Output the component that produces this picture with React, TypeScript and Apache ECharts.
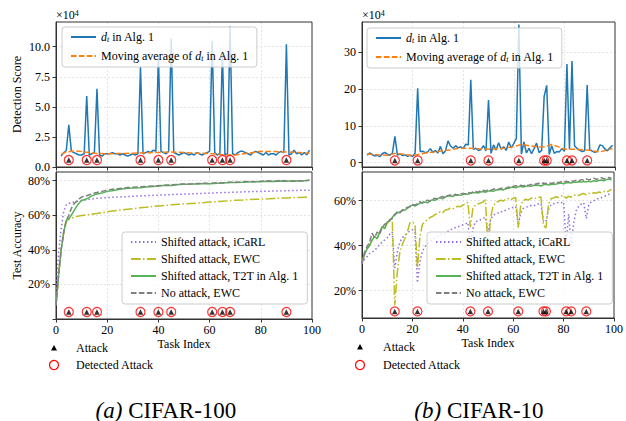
import React, { useEffect, useRef } from 'react';
import * as echarts from 'echarts';

const FONT = '"Liberation Serif", "Times New Roman", serif';

// ---------- data ----------
const xTicks = [0, 20, 40, 60, 80, 100];

// Attack task indices
const attacksC100 = [5, 12, 16, 33, 40, 45, 61, 65, 68, 90];
const attacksC10 = [13, 22, 43, 50, 62, 72, 73, 81, 83, 89];

// Detection score d_t (x1e4), tasks 2..99
const detStartTask = 2;
const dtC100 = [
  0.9, 1.2, 1.35, 3.5, 1.3, 1.2, 1.1, 1.0, 1.0, 1.1, 5.9, 1.0, 1.1, 1.2, 6.5,
  1.0, 0.9, 1.1, 1.1, 1.1, 1.2, 1.1, 1.1, 1.0, 1.1, 1.0, 0.9, 1.0, 1.1, 1.0, 1.1,
  8.3, 1.1, 1.2, 1.3, 1.2, 1.4, 1.3, 9.2, 1.3, 1.2, 1.1, 1.3, 10.7,
  1.2, 1.1, 1.0, 1.1, 1.2, 1.1, 1.0, 1.1, 1.0, 1.2, 1.1, 1.0, 1.1, 1.2, 1.3,
  10.5, 1.2, 1.0, 1.1, 9.6, 1.0, 1.1, 11.7,
  1.1, 1.0, 1.2, 1.3, 1.3, 1.2, 1.1, 1.0, 1.2, 1.3, 1.2, 1.1, 1.0, 1.2, 1.0, 1.1, 1.1, 1.0, 1.2, 1.3, 1.2,
  10.2, 1.0, 1.1, 1.4, 1.1, 1.2, 1.0, 1.2, 1.0, 1.4,
];
const dtC10 = [
  2.0, 2.6, 2.2, 1.8, 2.0, 1.6, 2.4, 2.8, 2.3, 2.0, 2.5, 7.1,
  2.0, 2.4, 1.9, 2.1, 1.7, 2.0, 1.6, 2.6, 20.2,
  3.0, 3.1, 2.7, 2.9, 3.8, 2.8, 3.3, 2.6, 4.4, 2.4, 3.2, 5.9, 4.5, 3.9, 4.6, 4.0, 4.3, 3.8, 5.0, 4.8, 22.5,
  3.6, 3.9, 3.3, 3.5, 4.6, 3.2, 17.0,
  2.5, 4.8, 3.4, 5.4, 3.6, 4.3, 3.3, 5.6, 4.0, 5.2, 6.5, 37.5,
  2.3, 5.6, 2.6, 3.9, 2.4, 3.8, 5.3, 2.7, 3.3, 18.0, 21.0,
  2.2, 4.6, 2.5, 3.0, 2.9, 3.8, 3.1, 26.8, 3.6, 27.6,
  4.6, 3.8, 3.4, 3.0, 3.2, 21.1,
  3.5, 3.1, 2.8, 3.0, 4.8, 4.6, 3.7, 3.2, 4.0, 4.7,
];

// Moving average of d_t (x1e4)
const maC100Tasks = [2, 4, 6, 8, 10, 13, 16, 20, 25, 30, 35, 40, 45, 50, 55, 60, 63, 66, 70, 75, 80, 85, 90, 95, 99];
const maC100 = [1.05, 1.25, 1.3, 1.32, 1.28, 1.2, 1.12, 1.1, 1.12, 1.15, 1.18, 1.2, 1.25, 1.2, 1.15, 1.12, 1.08, 1.0, 1.0, 1.15, 1.3, 1.28, 1.25, 1.2, 1.15];
const maC10Tasks = [2, 6, 10, 13, 16, 20, 25, 30, 35, 38, 43, 47, 51, 55, 59, 63, 67, 70, 72, 75, 78, 80, 84, 89, 94, 99];
const maC10 = [2.3, 2.1, 2.0, 2.5, 2.3, 1.9, 2.6, 3.0, 3.5, 3.9, 3.9, 3.7, 3.6, 3.8, 4.2, 4.9, 4.5, 4.2, 4.3, 4.9, 4.2, 3.6, 3.6, 3.4, 2.9, 3.8];

// Test accuracy CIFAR-100 (%)
const accC100Tasks = [0, 1, 2, 3, 4, 5, 6, 7, 8, 9, 10, 11, 12, 13, 14, 15, 16, 18, 20, 22, 25, 28, 30, 33, 35, 38, 40, 43, 45, 48, 50, 53, 55, 58, 60, 63, 65, 68, 70, 73, 75, 78, 80, 83, 85, 88, 90, 93, 95, 97, 99];
const icarlC100 = [15, 38, 52, 62, 66, 66.8, 67.2, 67.6, 67.9, 68.2, 68.6, 68.8, 69, 69.2, 69.4, 69.6, 69.8, 70, 70.2, 70.4, 70.6, 70.8, 71, 71.2, 71.3, 71.5, 71.6, 71.8, 71.9, 72.1, 72.2, 72.4, 72.5, 72.7, 72.8, 73, 73.1, 73.2, 73.3, 73.5, 73.6, 73.7, 73.8, 73.9, 74, 74.1, 74.2, 74.3, 74.4, 74.4, 74.5];
const ewcC100 = [8, 25, 40, 50, 56.5, 57.8, 58.3, 58.8, 59.2, 59.5, 59.8, 60, 60.2, 60.4, 60.6, 60.8, 61, 61.5, 62, 62.4, 63, 63.5, 63.8, 64.3, 64.6, 65.1, 65.4, 65.7, 66, 66.3, 66.5, 66.8, 67, 67.3, 67.6, 67.9, 68.1, 68.4, 68.6, 68.8, 69, 69.2, 69.3, 69.5, 69.7, 69.9, 70, 70.2, 70.3, 70.4, 70.5];
const t2tC100 = [8, 25, 40, 50, 57, 58, 60, 62.5, 65, 67, 68.5, 69, 69.5, 70.3, 71.2, 71.8, 72.3, 72.8, 73.8, 74.2, 75, 75.6, 75.7, 75.9, 76.3, 76.6, 76.9, 77.3, 77.2, 77.8, 77.9, 78, 78.1, 78.3, 78.2, 78.5, 78.6, 78.9, 79, 79.1, 79.2, 79.3, 79.4, 79.6, 79.5, 79.8, 79.7, 79.9, 79.8, 80, 80.2];
const noAtkC100 = [8, 25, 40, 50, 57, 60, 64, 66.5, 68, 69.5, 70.5, 71, 71.3, 71.8, 72.3, 72.8, 73.2, 73.8, 74.5, 75, 75.5, 76, 76.2, 76.4, 76.6, 76.9, 77.1, 77.4, 77.6, 77.9, 78, 78.1, 78.3, 78.5, 78.4, 78.8, 78.7, 79.1, 79.1, 79.3, 79.5, 79.4, 79.7, 79.9, 79.6, 80.2, 79.8, 79.6, 80, 79.8, 80.3];

// Test accuracy CIFAR-10 (%), tasks 0..99
const t2tC10 = [
  32.5, 36, 38.5, 40, 42.5, 44, 43, 46, 48.5, 47.5,
  50.5, 51, 52.5, 54, 54.5, 55, 55.5, 55.8, 56.5, 57.5,
  58, 57.6, 58.2, 58.8, 59.2, 59.4, 59, 60, 60.3, 60.1,
  60.9, 61.3, 60.8, 61.6, 62, 62.1, 61.8, 62.4, 62.6, 62.3,
  62.7, 63, 62.8, 63.2, 63.5, 63.6, 63.3, 63.8, 64, 63.7,
  64.2, 64.4, 64.1, 64.6, 64.8, 65, 64.7, 65.3, 65.5, 65.8,
  66, 65.7, 66.1, 66.3, 66, 66.4, 66.6, 66.3, 66.7, 66.9,
  66.8, 66.5, 67, 67.2, 66.9, 67.1, 67.4, 67.3, 67.6, 67.8,
  67.5, 67.9, 68, 67.8, 68.2, 68.1, 68.4, 68.2, 68.5, 68.3,
  68.6, 68.4, 68.8, 68.6, 68.9, 69.1, 68.8, 69.3, 69.6, 69.2,
];
const noAtkC10 = [
  32, 37, 39.5, 41.5, 45.5, 43.5, 46, 45, 48, 49.5,
  50, 51.5, 52, 53.5, 55, 54.5, 55.8, 56.3, 57, 57.2,
  58.3, 58, 58.6, 59.5, 58.9, 59.8, 60.2, 59.7, 60.6, 61,
  60.5, 61.4, 61.8, 61.2, 62.2, 62.5, 62.1, 62.8, 62.4, 63,
  63.2, 62.9, 63.6, 63.3, 63.9, 64.1, 63.7, 64.3, 64.6, 64.2,
  64.8, 64.5, 65, 65.3, 64.9, 65.4, 65.7, 65.4, 66, 65.8,
  66.3, 66.6, 66.2, 66.8, 66.5, 67, 66.7, 67.2, 66.9, 67.4,
  67.7, 67.3, 67.8, 67.5, 68, 67.6, 67.9, 68.3, 67.9, 68.4,
  68.1, 68.6, 68.3, 68.9, 68.5, 69.1, 68.7, 69.3, 69, 69.6,
  69.2, 69.5, 70, 69.4, 69.8, 70.2, 69.6, 70, 70.3, 69.8,
];
const ewcC10 = [
  32.5, 36, 38.5, 40, 42.5, 44, 43, 46, 48, 47.5,
  50, 51, 52, 13.5, 28, 37, 40.5, 43, 46, 50,
  50.5, 49.5, 30, 44, 49.5, 50.5, 51.5, 52.5, 53, 53.8,
  54.2, 55, 54.6, 55.8, 56, 56.6, 56.2, 57, 57.5, 57.2,
  58, 58.6, 59.2, 48.2, 56.5, 58, 58.4, 58.9, 59.3, 60.3,
  37.5, 52, 57.5, 59, 59.6, 60.2, 59.8, 60.5, 60.9, 60.4,
  61, 61.3, 48, 58, 60, 60.6, 60.2, 61, 61.3, 60.9,
  61.4, 61.6, 49, 47.8, 58.5, 60.8, 61.2, 61.7, 61.4, 62,
  62.2, 61, 62, 61.5, 62.3, 62.6, 62.2, 62.9, 63.1, 62.5,
  63.2, 63, 63.5, 63.3, 63.8, 63.5, 64, 63.7, 64.3, 65,
];
const icarlC10 = [
  32, 34, 35, 36.5, 37, 38, 39, 40.5, 41.5, 42.5,
  43.5, 45, 46, 30, 37, 41.5, 43.5, 44.5, 45.5, 46.5,
  47, 46, 23.5, 33, 37.5, 39.5, 41, 42, 42.8, 43.5,
  44, 44.8, 45.5, 45.2, 46.2, 47, 47.4, 48, 48.3, 48.8,
  49.2, 49.6, 50.2, 38.8, 47.5, 50.5, 51, 51.5, 52, 52.6,
  46, 51.5, 53.5, 54, 54.5, 55.2, 55, 55.8, 56.2, 56.6,
  57, 57.3, 49, 54.5, 56.5, 57, 57.4, 57.8, 57.5, 58.2,
  58.5, 58.6, 51, 50.5, 56, 58.2, 58.6, 58.9, 59.2, 59,
  59.4, 41, 54, 40, 50, 55.5, 57.5, 58.5, 59, 52,
  58, 59.5, 60, 60.5, 61, 61.3, 61.8, 62.2, 62.8, 63.3,
];

// ---------- names ----------
const DT = 'd_t in Alg. 1';
const MA = 'Moving average of d_t in Alg. 1';
const ICARL = 'Shifted attack, iCaRL';
const EWC = 'Shifted attack, EWC';
const T2T = 'Shifted attack, T2T in Alg. 1';
const NOATK = 'No attack, EWC';

const AXC = '#333333';
const LIGHT = '#dddddd';
const NONE = 'rgba(0,0,0,0)';
const gridLine = (color: any) => ({ show: true, lineStyle: { color, type: [2, 2], width: 0.8 } });
const txt = { color: '#000', fontFamily: FONT, fontSize: 12 };

const zip = (xs: number[], ys: number[]) => xs.map((x, i) => [x, ys[i]]);
const seq = (start: number, ys: number[]) => ys.map((y, i) => [start + i, y]);

function App() {
  const ref = useRef<HTMLDivElement>(null);
  useEffect(() => {
    document.body.style.margin = '0';
    if (!ref.current) return;
    const chart = echarts.init(ref.current, undefined, { renderer: 'svg' });

    const grids = [
      { left: 56, top: 22, width: 256, height: 145 },
      { left: 56, top: 172, width: 256, height: 147 },
      { left: 362, top: 22, width: 253, height: 145 },
      { left: 362, top: 172, width: 253, height: 146 },
    ].map((g) => ({ ...g, show: true, z: 3, borderColor: AXC, borderWidth: 1, backgroundColor: 'transparent' }));

    const xAxis = [0, 1, 2, 3].map((k) => {
      const bottom = k === 1 || k === 3;
      return {
        type: 'value', gridIndex: k, min: xTicks[0], max: xTicks[xTicks.length - 1], interval: 20,
        axisLine: { show: true, onZero: false, lineStyle: { color: AXC, width: 1 } },
        axisTick: { show: true, length: 3.5, lineStyle: { color: AXC } },
        axisLabel: { show: bottom, ...txt, margin: 5 },
        splitLine: gridLine([NONE, LIGHT, LIGHT, LIGHT, LIGHT, NONE]),
        name: bottom ? 'Task Index' : '',
        nameLocation: 'middle', nameGap: 19,
        nameTextStyle: txt,
      };
    });

    const yBase = (k: number) => ({
      type: 'value', gridIndex: k,
      axisLine: { show: true, onZero: false, lineStyle: { color: AXC, width: 1 } },
      axisTick: { show: true, length: 3.5, lineStyle: { color: AXC } },
      nameLocation: 'middle', nameGap: 33, nameTextStyle: txt,
    });
    const yAxis = [
      { ...yBase(0), min: 0, max: 12.05, interval: 2.5, name: 'Detection Score',
        splitLine: gridLine([NONE, LIGHT, LIGHT, LIGHT, LIGHT, NONE]),
        axisLabel: { ...txt, margin: 6, showMaxLabel: false, formatter: (v: number) => (v <= 10.001 ? v.toFixed(1) : '') } },
      { ...yBase(1), min: 0, max: 85, interval: 20, name: 'Test Accuracy',
        splitLine: gridLine([NONE, LIGHT, LIGHT, LIGHT, LIGHT, NONE]),
        axisLabel: { ...txt, margin: 6, showMaxLabel: false, formatter: (v: number) => (v > 0 && v <= 80.001 ? v + '%' : '') } },
      { ...yBase(2), min: -1.2, max: 38.2, splitNumber: 4,
        splitLine: gridLine([NONE, LIGHT, LIGHT, LIGHT, LIGHT, NONE]),
        axisLabel: { ...txt, margin: 6, showMaxLabel: false, showMinLabel: false, formatter: (v: number) => (Math.abs(v % 10) < 1e-6 ? String(v) : '') } },
      { ...yBase(3), min: 7.8, max: 72.7, splitNumber: 3,
        splitLine: gridLine([NONE, LIGHT, LIGHT, LIGHT, NONE]),
        axisLabel: { ...txt, margin: 6, showMaxLabel: false, showMinLabel: false, formatter: (v: number) => (Math.abs(v % 20) < 1e-6 ? v + '%' : '') } },
    ];

    const line = (name: string, k: number, data: number[][], color: string, type: any, width = 1.5) => ({
      type: 'line', name, xAxisIndex: k, yAxisIndex: k, data, symbol: 'none', showSymbol: false,
      lineStyle: { color, width, type }, itemStyle: { color }, silent: true,
    });

    const markerLevels = [0.58, 4.05, 0.57, 10.74];
    const markers = (k: number, attacks: number[]) => [
      {
        type: 'scatter', name: 'Detected Attack', xAxisIndex: k, yAxisIndex: k, silent: true, z: 5,
        data: attacks.map((t) => [t, markerLevels[k]]), symbol: 'circle', symbolSize: 9,
        itemStyle: { color: 'rgba(255,255,255,0)', borderColor: '#ff0000', borderWidth: 1.2 },
      },
      {
        type: 'scatter', name: 'Attack', xAxisIndex: k, yAxisIndex: k, silent: true, z: 6,
        data: attacks.map((t) => [t, markerLevels[k]]), symbol: 'triangle', symbolSize: 5.5,
        itemStyle: { color: '#000000' },
      },
    ];

    const DASH = [5.5, 2.4];
    const DOT = [1.5, 2.5];
    const DASHDOT = [9.6, 2.4, 1.5, 2.4];

    const series: any[] = [
      line(DT, 0, seq(detStartTask, dtC100), '#1f77b4', 'solid'),
      line(MA, 0, zip(maC100Tasks, maC100), '#ff7f0e', DASH),
      ...markers(0, attacksC100),
      line(ICARL, 1, zip(accC100Tasks, icarlC100), '#9370db', DOT),
      line(EWC, 1, zip(accC100Tasks, ewcC100), '#bcbd22', DASHDOT),
      line(T2T, 1, zip(accC100Tasks, t2tC100), '#56b356', 'solid'),
      line(NOATK, 1, zip(accC100Tasks, noAtkC100), '#808080', DASH),
      ...markers(1, attacksC100),
      line(DT, 2, seq(detStartTask, dtC10), '#1f77b4', 'solid'),
      line(MA, 2, zip(maC10Tasks, maC10), '#ff7f0e', DASH),
      ...markers(2, attacksC10),
      line(ICARL, 3, seq(0, icarlC10), '#9370db', DOT),
      line(EWC, 3, seq(0, ewcC10), '#bcbd22', DASHDOT),
      line(T2T, 3, seq(0, t2tC10), '#56b356', 'solid'),
      line(NOATK, 3, seq(0, noAtkC10), '#808080', DASH),
      ...markers(3, attacksC10),
    ];

    const rich = {
      i: { fontStyle: 'italic', fontFamily: FONT, fontSize: 12, color: '#000' },
      s: { fontStyle: 'italic', fontFamily: FONT, fontSize: 8, color: '#000', verticalAlign: 'bottom', lineHeight: 8 },
    };
    const legendBase = {
      orient: 'vertical', itemWidth: 25, itemHeight: 12, selectedMode: false, z: 6,
      backgroundColor: 'rgba(255,255,255,0.8)', borderColor: '#cccccc', borderWidth: 1, borderRadius: 3,
      padding: [4, 8, 5, 8],
      itemStyle: { opacity: 0 },
      textStyle: { ...txt, lineHeight: 12, rich },
      formatter: (name: string) =>
        name === DT ? '{i|d}{s|t} in Alg. 1' : name === MA ? 'Moving average of {i|d}{s|t} in Alg. 1' : name,
    };
    const legend = [
      { ...legendBase, left: 62, top: 27, itemGap: 7, data: [DT, MA] },
      { ...legendBase, left: 367, top: 28, itemGap: 7, data: [DT, MA] },
      { ...legendBase, left: 122, top: 232, itemGap: 5, data: [ICARL, EWC, T2T, NOATK] },
      { ...legendBase, left: 427, top: 232, itemGap: 5, data: [ICARL, EWC, T2T, NOATK] },
    ];

    const tri = (cx: number, cy: number) => ({
      type: 'polygon', shape: { points: [[cx, cy - 3], [cx - 3, cy + 2.5], [cx + 3, cy + 2.5]] }, style: { fill: '#000' },
    });
    const circ = (cx: number, cy: number) => ({
      type: 'circle', shape: { cx, cy, r: 4.5 }, style: { fill: 'none', stroke: '#ff0000', lineWidth: 1.2 },
    });
    const label = (x: number, y: number, text: string) => ({
      type: 'text', style: { x, y, text, fill: '#000', font: `12px ${FONT}`, verticalAlign: 'middle', align: 'left' },
    });
    const caption = (x: number, y: number, tag: string, name: string) => ({
      type: 'text',
      style: {
        x, y, text: `{i|${tag}} ${name}`, fill: '#000', fontFamily: FONT, fontSize: 23,
        align: 'center', verticalAlign: 'middle',
        rich: { i: { fontStyle: 'italic', fontFamily: FONT, fontSize: 23, fill: '#000' } },
      },
    });
    const sci = (x: number) => ({
      type: 'text',
      style: {
        x, y: 15, text: '×10{sup|4}', fill: '#000', fontFamily: FONT, fontSize: 12, align: 'left', verticalAlign: 'middle',
        rich: { sup: { fontFamily: FONT, fontSize: 8, fill: '#000', verticalAlign: 'top', lineHeight: 8, padding: [0, 0, 6, 0] } },
      },
    });

    const graphic = [
      sci(56), sci(362),
      tri(54, 348), label(76, 348, 'Attack'),
      circ(54, 365), label(76, 365, 'Detected Attack'),
      tri(360, 347), label(383, 347, 'Attack'),
      circ(360, 365), label(383, 365, 'Detected Attack'),
      caption(166, 410, '(a)', 'CIFAR-100'),
      caption(479, 410, '(b)', 'CIFAR-10'),
    ];

    chart.setOption({
      animation: false,
      backgroundColor: '#ffffff',
      textStyle: { fontFamily: FONT },
      grid: grids,
      xAxis,
      yAxis,
      legend,
      series,
      graphic,
    } as any);

    return () => chart.dispose();
  }, []);
  return <div ref={ref} style={{ width: 626, height: 421 }} />;
}

export default App;
